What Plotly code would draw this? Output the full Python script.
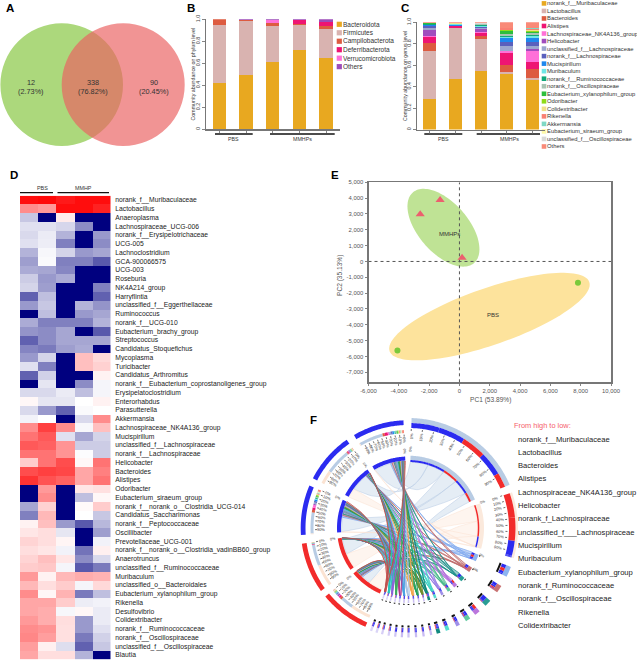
import numpy as np
import plotly.graph_objects as go

W, H = 637, 660
FONT = "Liberation Sans"

# ---------- Panel A ----------
venn_counts = ["12", "338", "90"]
venn_pct = ["(2.73%)", "(76.82%)", "(20.45%)"]

# ---------- Panel B ----------
bar_groups = ["PBS", "MMHPs"]
phyla = ["Bacteroidota", "Firmicutes", "Campilobacterota", "Deferribacterota", "Verrucomicrobiota", "Others"]
phylum_colors = ["#E8A820", "#D9B3B0", "#DD5B40", "#EE1573", "#FF70D8", "#9C4DB8"]
phylum_s1 = [0.42, 0.525, 0.055, 0.0, 0.0, 0.0]
phylum_s2 = [0.49, 0.495, 0.005, 0.0, 0.0, 0.01]
phylum_s3 = [0.615, 0.325, 0.03, 0.0, 0.025, 0.005]
phylum_s4 = [0.725, 0.225, 0.01, 0.03, 0.0, 0.01]
phylum_s5 = [0.645, 0.27, 0.025, 0.04, 0.0, 0.02]
phylum_table = [phylum_s1, phylum_s2, phylum_s3, phylum_s4, phylum_s5]

# ---------- Panel C ----------
genera = ["norank_f__Muribaculaceae", "Lactobacillus", "Bacteroides", "Alistipes",
          "Lachnospiraceae_NK4A136_group", "Helicobacter", "unclassified_f__Lachnospiraceae",
          "norank_f__Lachnospiraceae", "Mucispirillum", "Muribaculum", "norank_f__Ruminococcaceae",
          "norank_f__Oscillospiraceae", "Eubacterium_xylanophilum_group", "Odoribacter",
          "Colidextribacter", "Rikenella", "Akkermansia", "Eubacterium_siraeum_group",
          "unclassified_f__Oscillospiraceae", "Others"]
genus_colors = ["#E8A820", "#D9B3B0", "#DD5B40", "#EE1573", "#FF70D8", "#A04DBE", "#9CA7CF", "#5A60BD",
                "#1E88EE", "#6EE6E6", "#12A87C", "#A9C4B4", "#2DBE3C", "#8FDB1B", "#F0E08A", "#FA8072",
                "#7FD8C4", "#FDF8A8", "#D9D9D9", "#F98A78"]
genus_s1 = [.285, .445, .08, .05, .012, .055, .02, .015, .01, .006, .006, .004, .002, .002, .001, .001, .001, .001, .001, .003]
genus_s2 = [.467, .477, .002, .02, .001, .001, .001, .001, .004, .008, .002, .002, .001, .001, .001, .001, .001, .001, .001, .008]
genus_s3 = [.548, .294, .031, .031, .005, .03, .012, .003, .004, .012, .006, .004, .002, .001, .001, .002, .001, .001, .001, .011]
genus_s4 = [.517, .019, .068, .111, .019, .002, .046, .034, .037, .013, .009, .019, .021, .01, .003, .015, .001, .001, .002, .053]
genus_s5 = [.464, .016, .087, .065, .096, .024, .031, .037, .038, .015, .009, .018, .013, .01, .007, .012, .002, .002, .002, .054]
genus_table = [genus_s1, genus_s2, genus_s3, genus_s4, genus_s5]

# ---------- Panel D ----------
heat_columns = ["P1", "P2", "M1", "M2", "M3"]
heat_rows = ["norank_f__Muribaculaceae", "Lactobacillus", "Anaeroplasma", "Lachnospiraceae_UCG-006",
             "norank_f__Erysipelotrichaceae", "UCG-005", "Lachnoclostridium", "GCA-900066575", "UCG-003",
             "Roseburia", "NK4A214_group", "Harryflintia", "unclassified_f__Eggerthellaceae", "Ruminococcus",
             "norank_f__UCG-010", "Eubacterium_brachy_group", "Streptococcus", "Candidatus_Stoquefichus",
             "Mycoplasma", "Turicibacter", "Candidatus_Arthromitus", "norank_f__Eubacterium_coprostanoligenes_group",
             "Erysipelatoclostridium", "Enterorhabdus", "Parasutterella", "Akkermansia",
             "Lachnospiraceae_NK4A136_group", "Mucispirillum", "unclassified_f__Lachnospiraceae",
             "norank_f__Lachnospiraceae", "Helicobacter", "Bacteroides", "Alistipes", "Odoribacter",
             "Eubacterium_siraeum_group", "norank_f__norank_o__Clostridia_UCG-014", "Candidatus_Saccharimonas",
             "norank_f__Peptococcaceae", "Oscillibacter", "Prevotellaceae_UCG-001",
             "norank_f__norank_o__Clostridia_vadinBB60_group", "Anaerotruncus", "unclassified_f__Ruminococcaceae",
             "Muribaculum", "unclassified_o__Bacteroidales", "Eubacterium_xylanophilum_group", "Rikenella",
             "Desulfovibrio", "Colidextribacter", "norank_f__Ruminococcaceae", "norank_f__Oscillospiraceae",
             "unclassified_f__Oscillospiraceae", "Blautia"]
heat_values = [
    [.95, .97, .90, .95, .95], [.45, .40, .95, .95, .87], [-.22, -1, .08, -1, -1], [-.12, -.12, -.16, -.45, -1],
    [-.15, -.08, -.30, -1, -.40], [-.12, -.07, -.50, -1, -.45], [-.30, -.03, -.17, -.40, -.35],
    [-.38, -.02, -.50, -.50, -.65], [-.33, -.35, -.47, -1, -1], [-.20, -.40, -.33, -1, -1],
    [-.17, -.38, -1, -1, -.50], [-.62, -.25, -1, -1, -.62], [-.40, -.22, -1, -.30, -.42],
    [-1, -.25, -1, -.40, -.35], [-.33, -.50, -.50, -.50, -.30], [-.42, -.45, -.35, -1, -.65],
    [-.62, -.45, -.35, -.35, -.35], [-.48, -.52, -.38, -.33, -1], [-.40, -.17, -1, .25, .15],
    [-.12, -.50, -1, .25, .18], [-.62, -.18, -1, -1, .05], [-1, -.10, -1, -.45, -.04],
    [-.15, -.15, -.08, -.25, -.04], [.03, -.10, -.10, 0, .05], [-.15, -.40, -.62, -.02, 0],
    [-.05, 0, -1, -.15, .45], [.45, .75, .45, -.03, .25], [.55, .65, -.12, -.35, -.17],
    [.65, .62, .42, -.20, -.20], [.55, .55, .42, -.01, -.20], [.20, .55, .70, .03, .55],
    [.70, .75, .72, .35, .50], [.80, .68, .62, .35, .55], [-1, .40, -1, .10, .12], [-1, .45, -1, -.25, .03],
    [-.35, .18, -1, .02, .20], [-.50, .28, -1, 0, -.22], [.05, .25, -.40, -.65, -.28],
    [.10, .13, -.10, -1, -.38], [.17, .13, .04, -1, -.05], [.13, .10, -.05, -.55, .06],
    [.17, .25, .10, -.45, -.15], [.20, .22, -.04, -.65, -.52], [.40, .05, .28, .32, .30],
    [.28, .13, .20, -.04, .15], [.45, .03, .30, -.52, -.25], [.35, .35, .20, -.07, -.05],
    [.35, .32, -.03, .03, -.08], [.40, .32, .13, -.40, -.08], [.45, .42, .12, -.40, -.12],
    [.47, .38, .12, -.52, -.18], [.38, .06, -.13, -.62, -.22], [.35, .13, .13, -.30, -1]]

# ---------- Panel E ----------
pc1_mmhp = [-1275, -2590, 175]
pc2_mmhp = [3880, 2975, 230]
pc1_pbs = [7820, -4090]
pc2_pbs = [-1350, -5630]
# ellipse: centre x, centre y, half extent x, half extent y, correlation
ell_mmhp = [-1055, 2130, 2374, 2458, -0.55]
ell_pbs = [1978, -3481, 6615, 2764, 0.73]
pc_x_ticks = [-6000, -4000, -2000, 0, 2000, 4000, 6000, 8000, 10000]
pc_x_labels = ["-6,000", "-4,000", "-2,000", "0", "2,000", "4,000", "6,000", "8,000", "10,000"]
pc_y_ticks = [5000, 4000, 3000, 2000, 1000, 0, -1000, -2000, -3000, -4000, -5000, -6000, -7000]
pc_y_labels = ["5,000", "4,000", "3,000", "2,000", "1,000", "0", "-1,000", "-2,000", "-3,000", "-4,000",
               "-5,000", "-6,000", "-7,000"]

# ---------- Panel F ----------
rank_list = ["norank_f__Muribaculaceae", "Lactobacillus", "Bacteroides", "Alistipes",
             "Lachnospiraceae_NK4A136_group", "Helicobacter", "norank_f_Lachnospiraceae",
             "unclassified_f___Lachnospiraceae", "Mucispirillum", "Muribaculum",
             "Eubacterium_xylanophilum_group", "norank_f_Ruminococcaceae", "norank_f__Oscillospiraceae",
             "Rikenella", "Colidextribacter"]
sample_order = [3, 2, 4, 1, 0]            # column of genus_table drawn in each left sector
sample_start = [-2.7, -35.0, -66.8, -98.4, -129.5]
sample_end = [-30.4, -62.5, -93.7, -125.7, -156.4]
sample_colors = ["#2B2BF0", "#2B2BF0", "#2B2BF0", "#F22B2B", "#F22B2B"]
taxon_start = [1.6, 71.0, 110.8, 122.0, 131.7, 139.5, 145.7, 152.0, 158.0, 163.0, 167.4, 171.4, 175.4, 179.4,
               182.9, 186.4, 189.9, 193.4, 196.4, 199.4]
taxon_end = [66.8, 106.0, 116.4, 126.0, 135.3, 142.5, 148.3, 154.0, 160.0, 165.0, 168.6, 172.6, 176.6, 180.6,
             184.1, 187.6, 191.1, 194.6, 197.6, 200.6]
ribbon_colors = ["#B8CCE4", "#FBE3D2", "#7FA9EE", "#BF6A6A", "#1F8F8A", "#B46FDC", "#49B98A", "#9A80E6",
                 "#3FD3C5", "#0E8578", "#6E8B2A", "#25A05C", "#F2A64B", "#A9C3E6", "#4AA0E0", "#B13A8E",
                 "#3CAA5F", "#8A63D8", "#25C5BB", "#C0504D"]
tile_colors = ["#B8CCE4", "#FBE9DC", "#8DB4F0", "#C87272", "#2A9D94", "#BB77DD", "#60C9A0", "#9F8FE8",
               "#55DCCF", "#128A80", "#C9BCF2", "#C9BCF2", "#C9BCF2", "#D0C6F4", "#C9BCF2", "#D0C6F4",
               "#D6CEF6", "#D6CEF6", "#DAD4F7", "#DAD4F7"]
percent_labels = ["0%", "10%", "20%", "30%", "40%", "50%", "60%", "70%", "80%", "90%"]


# ---------- helpers ----------
def dx(l, r):
    return [l / W, r / W]


def dy(t, b):
    return [1 - b / H, 1 - t / H]


CX, CY = 408.5, 528.0
BEND = 0.28   # how far the chord control point stays from the centre, toward the chord midpoint
fig = go.Figure()
notes = []


def text(x, y, s, size=6.5, color="#333333", anchor="left", angle=0, bold=False):
    notes.append(dict(x=x, y=y, xref="x", yref="y", text=f"<b>{s}</b>" if bold else s, showarrow=False,
                      font=dict(family=FONT, size=size, color=color), xanchor=anchor, yanchor="middle",
                      textangle=angle, borderpad=0, borderwidth=0))


def polar(r, deg):
    t = np.radians(deg)
    return CX + r * np.sin(t), CY - r * np.cos(t)


def arc_xy(r0, r1, a0, a1):
    n = max(3, int(abs(a1 - a0) * 1.5) + 2)
    t = np.linspace(a0, a1, n)
    xo, yo = polar(r1, t)
    xi, yi = polar(r0, t[::-1])
    return list(xo) + list(xi) + [xo[0]], list(yo) + list(yi) + [yo[0]]


def band(r0, r1, a0, a1, color, opacity=1.0):
    x, y = arc_xy(r0, r1, a0, a1)
    fig.add_trace(go.Scatter(x=x, y=y, mode="none", fill="toself", fillcolor=color, opacity=opacity,
                             hoverinfo="skip", showlegend=False))


def seg(x0, y0, x1, y1, color="#111111", width=1.0, dash=None):
    fig.add_trace(go.Scatter(x=[x0, x1], y=[y0, y1], mode="lines", line=dict(color=color, width=width, dash=dash),
                             hoverinfo="skip", showlegend=False))


def ribbon(a0, a1, b0, b1, ra, rb):
    """Closed chord outline; both ends on arcs, sides bend toward the centre."""
    ta = np.linspace(a0, a1, 6)
    tb = np.linspace(b0, b1, 6)
    xa, ya = polar(ra, ta)
    xb, yb = polar(rb, tb)
    s = np.linspace(0, 1, 30)

    def bez(x0, y0, x1, y1):
        qx = CX + BEND * ((x0 + x1) / 2 - CX)
        qy = CY + BEND * ((y0 + y1) / 2 - CY)
        return (1 - s) ** 2 * x0 + 2 * s * (1 - s) * qx + s ** 2 * x1, (1 - s) ** 2 * y0 + 2 * s * (1 - s) * qy + s ** 2 * y1

    x1, y1 = bez(xa[-1], ya[-1], xb[0], yb[0])
    x2, y2 = bez(xb[-1], yb[-1], xa[0], ya[0])
    return list(xa) + list(x1) + list(xb) + list(x2) + [None], list(ya) + list(y1) + list(yb) + list(y2) + [None]


def hex_to_rgba(c, a):
    return f"rgba({int(c[1:3], 16)},{int(c[3:5], 16)},{int(c[5:7], 16)},{a})"


# ---------- Panel letters ----------
for letter, lx, ly in [("A", 9.5, 7.5), ("B", 191, 7.5), ("C", 405, 7.5), ("D", 14, 174.5), ("E", 334.5, 174.5), ("F", 313, 420)]:
    text(lx, ly, letter, size=11.5, color="#000000", anchor="center", bold=True)

# ---------- Panel A: Venn ----------
venn_shapes = [
    dict(type="circle", xref="x", yref="y", x0=0.4, x1=123, y0=23.3, y1=146, fillcolor="#ACD87C", line=dict(width=0), layer="below"),
    dict(type="circle", xref="x", yref="y", x0=61.7, x1=184.7, y0=23.3, y1=146, fillcolor="rgba(234,98,98,0.68)", line=dict(width=0), layer="below"),
]
for cx_, n_, p_ in zip([31, 92.5, 154], venn_counts, venn_pct):
    text(cx_, 82.3, n_, size=7.3, anchor="center")
    text(cx_, 91, p_, size=7.3, anchor="center")

# ---------- Panel B ----------
for j, (name, col) in enumerate(zip(phyla, phylum_colors)):
    fig.add_trace(go.Bar(x=list(range(5)), y=[row[j] for row in phylum_table], marker=dict(color=col, line=dict(width=0)),
                         width=0.5, xaxis="x2", yaxis="y2", showlegend=False, hoverinfo="skip"))
    yy = 24.3 + 8.47 * j
    fig.add_trace(go.Scatter(x=[339.3], y=[yy], mode="markers", marker=dict(symbol="square", size=5.2, color=col),
                             showlegend=False, hoverinfo="skip"))
    text(343, yy, name, size=6.5)
seg(215, 134, 252.7, 134, width=1.3)
seg(270, 134, 334.7, 134, width=1.3)
text(233.7, 139.3, bar_groups[0], size=5.3, anchor="center")
text(302.3, 139.3, bar_groups[1], size=5.3, anchor="center")
text(192.5, 74, "Community abundance on phylum level", size=5.3, anchor="center", angle=-90)

# ---------- Panel C ----------
for j, (name, col) in enumerate(zip(genera, genus_colors)):
    fig.add_trace(go.Bar(x=list(range(5)), y=[row[j] for row in genus_table], marker=dict(color=col, line=dict(width=0)),
                         width=0.5, xaxis="x3", yaxis="y3", showlegend=False, hoverinfo="skip"))
    yy = 3.4 + 7.53 * j
    fig.add_trace(go.Scatter(x=[544], y=[yy], mode="markers", marker=dict(symbol="square", size=4.6, color=col),
                             showlegend=False, hoverinfo="skip"))
    text(547.3, yy, name, size=5.85)
seg(424.3, 134, 462.3, 134, width=1.3)
seg(476.7, 134, 540, 134, width=1.3)
text(443.3, 139.3, bar_groups[0], size=5.3, anchor="center")
text(509, 139.3, bar_groups[1], size=5.3, anchor="center")
text(405, 76, "Community abundance on genus level", size=5.3, anchor="center", angle=-90)

# ---------- Panel D ----------
fig.add_trace(go.Heatmap(z=heat_values, x=heat_columns, y=heat_rows, zmin=-1, zmax=1, xaxis="x4", yaxis="y4",
                         colorscale=[[0, "#00007F"], [0.5, "#FFFFFF"], [1, "#FF0000"]], showscale=False, hoverinfo="skip"))
seg(20, 192.7, 53, 192.7, width=1.2)
seg(57.5, 192.7, 109, 192.7, width=1.2)
text(42, 188.3, "PBS", size=5.4, anchor="center")
text(83, 188.3, "MMHP", size=5.4, anchor="center")


# ---------- Panel E ----------
def ellipse(cfg):
    t = np.linspace(0, 2 * np.pi, 121)
    phi = np.arccos(cfg[4])
    return cfg[0] + cfg[2] * np.cos(t), cfg[1] + cfg[3] * np.cos(t + phi)


ex, ey = ellipse(ell_mmhp)
fig.add_trace(go.Scatter(x=ex, y=ey, mode="none", fill="toself", fillcolor="#BFE395", xaxis="x5", yaxis="y5", showlegend=False, hoverinfo="skip"))
ex, ey = ellipse(ell_pbs)
fig.add_trace(go.Scatter(x=ex, y=ey, mode="none", fill="toself", fillcolor="#FDE39C", xaxis="x5", yaxis="y5", showlegend=False, hoverinfo="skip"))
dot_line = dict(color="#555555", width=1, dash="dot")
fig.add_trace(go.Scatter(x=[0, 0], y=[-7632, 5000], mode="lines", line=dot_line, xaxis="x5", yaxis="y5", showlegend=False, hoverinfo="skip"))
fig.add_trace(go.Scatter(x=[-6000, 10000], y=[0, 0], mode="lines", line=dot_line, xaxis="x5", yaxis="y5", showlegend=False, hoverinfo="skip"))
fig.add_trace(go.Scatter(x=pc1_mmhp, y=pc2_mmhp, mode="markers", marker=dict(symbol="triangle-up", size=8, color="#EC5F6E"), xaxis="x5", yaxis="y5", showlegend=False, hoverinfo="skip"))
fig.add_trace(go.Scatter(x=pc1_pbs, y=pc2_pbs, mode="markers", marker=dict(symbol="circle", size=6, color="#7BC93B"), xaxis="x5", yaxis="y5", showlegend=False, hoverinfo="skip"))
text(449, 233.5, "MMHPs", size=6, anchor="center")
text(493, 314.7, "PBS", size=6, anchor="center")
text(490.7, 399.7, "PC1 (53.89%)", size=6.6, color="#555555", anchor="center")
text(340, 276, "PC2 (35.13%)", size=6.6, color="#555555", anchor="center", angle=-90)

# ---------- Panel F: chord ----------
n_samples = len(sample_order)
n_taxa = len(genera)
values = np.array(genus_table)
sample_slices = {}
for s, col in enumerate(sample_order):
    order = list(range(n_taxa - 1, 1, -1)) + [0, 1]
    span = sample_end[s] - sample_start[s]
    total = sum(values[col][k] for k in order)
    small_share = sum(values[col][k] for k in order[:-2]) / total
    a = sample_start[s]
    for k in order:
        if k < 2:
            w = span * values[col][k] / total
        else:
            # thin chords share the small-taxa zone half by value, half evenly, so they stay apart
            w = span * small_share * (0.5 * values[col][k] / sum(values[col][2:]) + 0.5 / (n_taxa - 2))
        sample_slices[(s, k)] = (a, a + w)
        a += w

taxon_slices = {}
stripe_order = [1, 0, 3, 4, 2]  # tie order among samples (index into sample_order)
for k in range(n_taxa):
    amounts = [values[sample_order[s]][k] for s in range(n_samples)]
    order = sorted(stripe_order, key=lambda s: -amounts[s])
    span = taxon_end[k] - taxon_start[k]
    total = sum(amounts)
    a = taxon_start[k]
    for s in order:
        w = span * amounts[s] / total
        taxon_slices[(k, s)] = (a, a + w, s)
        a += w

taxon_inner_r = [66.0, 69.0] + [68.0] * (n_taxa - 2)
# big ribbons first, then the thin coloured chords
for k in range(n_taxa):
    xs, ys = [], []
    for s in range(n_samples):
        a0, a1 = sample_slices[(s, k)]
        b0, b1, _ = taxon_slices[(k, s)]
        x_, y_ = ribbon(a0, a1, b0, b1, 67.0, taxon_inner_r[k])
        xs += x_
        ys += y_
    if k < 2:
        fig.add_trace(go.Scatter(x=xs, y=ys, mode="lines", line=dict(color=hex_to_rgba(ribbon_colors[k], 0.75), width=0.7), fill="toself",
                                 fillcolor=hex_to_rgba(ribbon_colors[k], 0.36), hoverinfo="skip", showlegend=False, connectgaps=False))
    else:
        fig.add_trace(go.Scatter(x=xs, y=ys, mode="lines", line=dict(color=hex_to_rgba(ribbon_colors[k], 0.9), width=0.8), fill="toself",
                                 fillcolor=hex_to_rgba(ribbon_colors[k], 0.45), hoverinfo="skip", showlegend=False, connectgaps=False))

# left sample sectors
for s in range(n_samples):
    a0, a1 = sample_start[s], sample_end[s]
    band(67.5, 71.5, a0, a1, sample_colors[s])
    band(103.0, 107.8, a0, a1, sample_colors[s])
    for k in range(n_taxa):
        b0, b1 = sample_slices[(s, k)]
        c = ribbon_colors[k] if k < 2 else genus_colors[k]
        band(95.0, 98.0, b0, b1, c)
    for i, lab in enumerate(percent_labels):
        t = a0 + (a1 - a0) * i / 10
        x0, y0 = polar(91.5, t)
        x1, y1 = polar(93.5, t)
        seg(x0, y0, x1, y1, width=0.6)
        lx, ly = polar(87.5, t)
        text(lx, ly, lab, size=3.9, color="#333333", anchor="center", angle=t + 90)
    lx, ly = polar(76.5, a0)
    text(lx, ly, "0%", size=3.6, anchor="center", angle=a0 + 90)

# right taxon sectors
for k in range(n_taxa):
    a0, a1 = taxon_start[k], taxon_end[k]
    pale = tile_colors[k]
    if k == 0:
        in_r = (66.0, 68.0, 72.3)
        out_r = (100.0, 105.0, 110.0)
    elif k == 1:
        in_r = (69.3, 70.8, 75.5)
        out_r = (100.5, 107.0, 109.5)
    else:
        in_r = (68.0, 71.0, 75.0)
        out_r = (100.0, 104.5, 109.5)
    band(in_r[1], in_r[2], a0, a1, pale)
    band(out_r[1], out_r[2], a0, a1, pale)
    for s in range(n_samples):
        b0, b1, idx = taxon_slices[(k, s)]
        band(in_r[0], in_r[1], b0, b1, sample_colors[idx])
        band(out_r[0], out_r[1], b0, b1, sample_colors[idx])
    if k < 2:
        for i, lab in enumerate(percent_labels):
            t = a0 + (a1 - a0) * i / 10
            x0, y0 = polar(97.0, t)
            x1, y1 = polar(99.0, t)
            seg(x0, y0, x1, y1, width=0.6)
            lx, ly = polar(92.0, t)
            text(lx, ly, lab, size=3.9, anchor="center", angle=t - 90)
    else:
        band(97.5, 99.5, a0, a1, "#111111")
        band(76.0, 77.0, a0, min(a1, a0 + 1.2), "#111111")
    if k < 4:
        lx, ly = polar(79.0, a0)
        text(lx, ly, "0%", size=3.6, anchor="center", angle=a0 - 90)

text(514, 425, "From high to low:", size=7.4, color="#F5606A")
for i, name in enumerate(rank_list):
    text(517.7, 439 + 13.33 * i, name, size=7.6, color="#222222")

# ---------- layout ----------
hidden = dict(visible=False, fixedrange=True)
ax_tick = dict(tickfont=dict(family=FONT, size=5.4, color="#444444"), ticks="outside", ticklen=2.5, tickwidth=0.8,
               tickcolor="#666666", showline=True, linecolor="#777777", linewidth=1.5, showgrid=False, zeroline=False, fixedrange=True)
layout = dict(
    width=W, height=H, margin=dict(l=0, r=0, t=0, b=0, pad=0, autoexpand=False), autosize=False, showlegend=False,
    paper_bgcolor="#FFFFFF", plot_bgcolor="rgba(0,0,0,0)", barmode="stack", bargap=0.5,
    font=dict(family=FONT), shapes=venn_shapes, annotations=notes,
    xaxis=dict(domain=[0, 1], range=[0, W], anchor="y", **hidden),
    yaxis=dict(domain=[0, 1], range=[H, 0], anchor="x", **hidden),
    xaxis2=dict(domain=dx(206, 339.5), range=[-0.5, 4.5], anchor="y2", showticklabels=False, tickvals=list(range(5)), **ax_tick),
    yaxis2=dict(domain=dy(19.3, 129.3), range=[0, 1.0], anchor="x2", tickangle=-90, tickvals=[0, .2, .4, .6, .8, 1],
                ticktext=["0", "0.2", "0.4", "0.6", "0.8", "1.0"], **ax_tick),
    xaxis3=dict(domain=dx(417, 545), range=[-0.5, 4.5], anchor="y3", showticklabels=False, tickvals=list(range(5)), **ax_tick),
    yaxis3=dict(domain=dy(22.3, 129.5), range=[0, 1.0], anchor="x3", tickangle=-90, tickvals=[0, .2, .4, .6, .8, 1],
                ticktext=["0", "0.2", "0.4", "0.6", "0.8", "1.0"], **ax_tick),
    xaxis4=dict(domain=dx(20, 110.5), anchor="y4", **hidden),
    yaxis4=dict(domain=dy(195.7, 659.3), anchor="x4", side="right", autorange="reversed", tickmode="array", tickvals=heat_rows, ticktext=heat_rows,
                tickfont=dict(family=FONT, size=6.75, color="#222222"), ticks="outside", ticklen=2.5, tickcolor="rgba(0,0,0,0)",
                showline=False, showgrid=False, zeroline=False, fixedrange=True),
    xaxis5=dict(domain=dx(368.5, 611), range=[-6000, 10000], anchor="y5", mirror=True, tickvals=pc_x_ticks, ticktext=pc_x_labels,
                **{**ax_tick, "tickfont": dict(family=FONT, size=5.9, color="#555555")}),
    yaxis5=dict(domain=dy(182.3, 382.3), range=[-7632, 5000], anchor="x5", mirror=True, tickvals=pc_y_ticks, ticktext=pc_y_labels,
                **{**ax_tick, "tickfont": dict(family=FONT, size=5.9, color="#555555")}),
)
fig.update_layout(**layout)
fig.write_html("out.html", config=dict(displayModeBar=False, staticPlot=True),
               post_script="document.body.style.margin='0';document.documentElement.style.overflow='hidden';")
